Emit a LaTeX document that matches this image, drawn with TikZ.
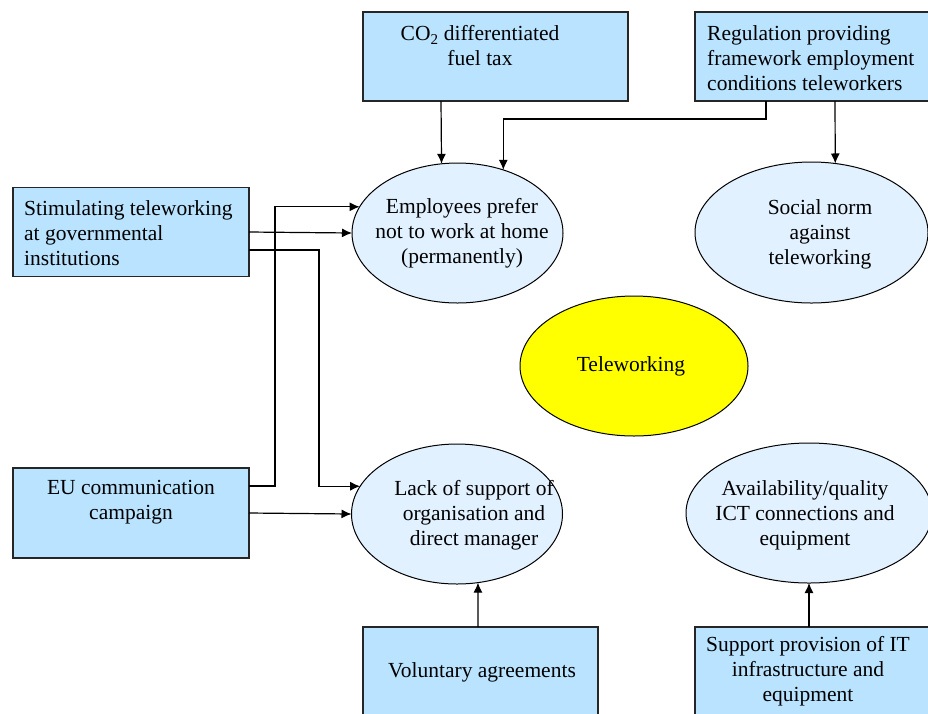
\documentclass[tikz,border=0pt]{standalone}
\usepackage{fontspec}
\setmainfont{Liberation Serif}
\usetikzlibrary{arrows.meta,shapes.geometric}
\definecolor{boxblue}{HTML}{B9E3FF}
\definecolor{ellblue}{HTML}{E1F1FF}
\definecolor{telyellow}{HTML}{FFFF00}
\begin{document}
\begin{tikzpicture}[x=1pt,y=-1pt,
  box/.style={draw=black!85, line width=1.1pt, fill=boxblue, rectangle, inner sep=0pt, outer sep=0pt},
  ell/.style={draw=black, line width=1pt, fill=ellblue, ellipse, inner sep=0pt, outer sep=0pt},
  txt/.style={font=\fontsize{21.5}{25}\selectfont, inner sep=0pt, align=center},
  ltxt/.style={font=\fontsize{21.5}{25}\selectfont, inner sep=0pt, align=left},
  arr/.style={-{Latex[length=10pt,width=9pt]}, line width=1.2pt}]
\useasboundingbox (0,0) rectangle (928,713);
% boxes
\node[box, minimum width=265pt, minimum height=89pt] (co2) at (495.5,56.5) {};
\node[box, minimum width=236pt, minimum height=89pt] (reg) at (813,56.5) {};
\node[box, minimum width=236pt, minimum height=89pt] (stim) at (131,232) {};
\node[box, minimum width=236pt, minimum height=90pt] (eu) at (131,513) {};
\node[box, minimum width=235pt, minimum height=89pt] (vol) at (480.5,671.5) {};
\node[box, minimum width=236pt, minimum height=89pt] (sup) at (813,671.5) {};
% ellipses
\node[ell, minimum width=211pt, minimum height=140pt] (emp) at (457.5,233) {};
\node[ell, minimum width=233pt, minimum height=141pt] (soc) at (811.5,232.5) {};
\node[ell, fill=telyellow, minimum width=228pt, minimum height=140pt] (tel) at (634,366) {};
\node[ell, minimum width=211pt, minimum height=140pt] (lack) at (457,514) {};
\node[ell, minimum width=246pt, minimum height=140pt] (avail) at (809,513) {};
% texts
\node[txt] (co2t) at (480,46) {CO\textsubscript{2} differentiated\\fuel tax};
\node[ltxt, anchor=west] (regt) at (707,58) {Regulation providing\\framework employment\\conditions teleworkers};
\node[ltxt, anchor=west] (stimt) at (24,233) {Stimulating teleworking\\at governmental\\institutions};
\node[txt] (eut) at (131,502.5) {EU communication\\campaign};
\node[txt] (volt) at (482,672) {Voluntary agreements};
\node[txt] (supt) at (808,671) {Support provision of IT\\infrastructure and\\equipment};
\node[txt] (empt) at (462,233) {Employees prefer\\not to work at home\\(permanently)};
\node[txt] (soct) at (820,234) {Social norm\\against\\teleworking};
\node[txt] (telt) at (631,366) {Teleworking};
\node[txt] (lackt) at (474,515) {Lack of support of\\organisation and\\direct manager};
\node[txt] (availt) at (805,515) {Availability/quality\\ICT connections and\\equipment};
% connectors
\draw[arr] ([xshift=-54.5pt]co2.south) -- (emp.103.4);
\draw[arr] ([xshift=-47pt]reg.south) |- (640,119) -| (emp.54.2);
\draw[arr] ([xshift=22pt]reg.south) -- (soc.71.2);
\draw[arr] (stim.east) -- (emp.west);
\coordinate (s1) at (319,250);
\draw[arr] ([yshift=-18pt]stim.east) -- (s1) |- (lack.164);
\coordinate (e1) at (275,486);
\draw[arr] ([yshift=27pt]eu.east) -- (e1) |- (emp.165.1);
\draw[arr] (eu.east) -- (lack.west);
\draw[arr] ([xshift=-2.5pt]vol.north) -- (lack.-73);
\draw[arr] (avail.south |- sup.north) -- (avail.south);
\end{tikzpicture}
\end{document}
